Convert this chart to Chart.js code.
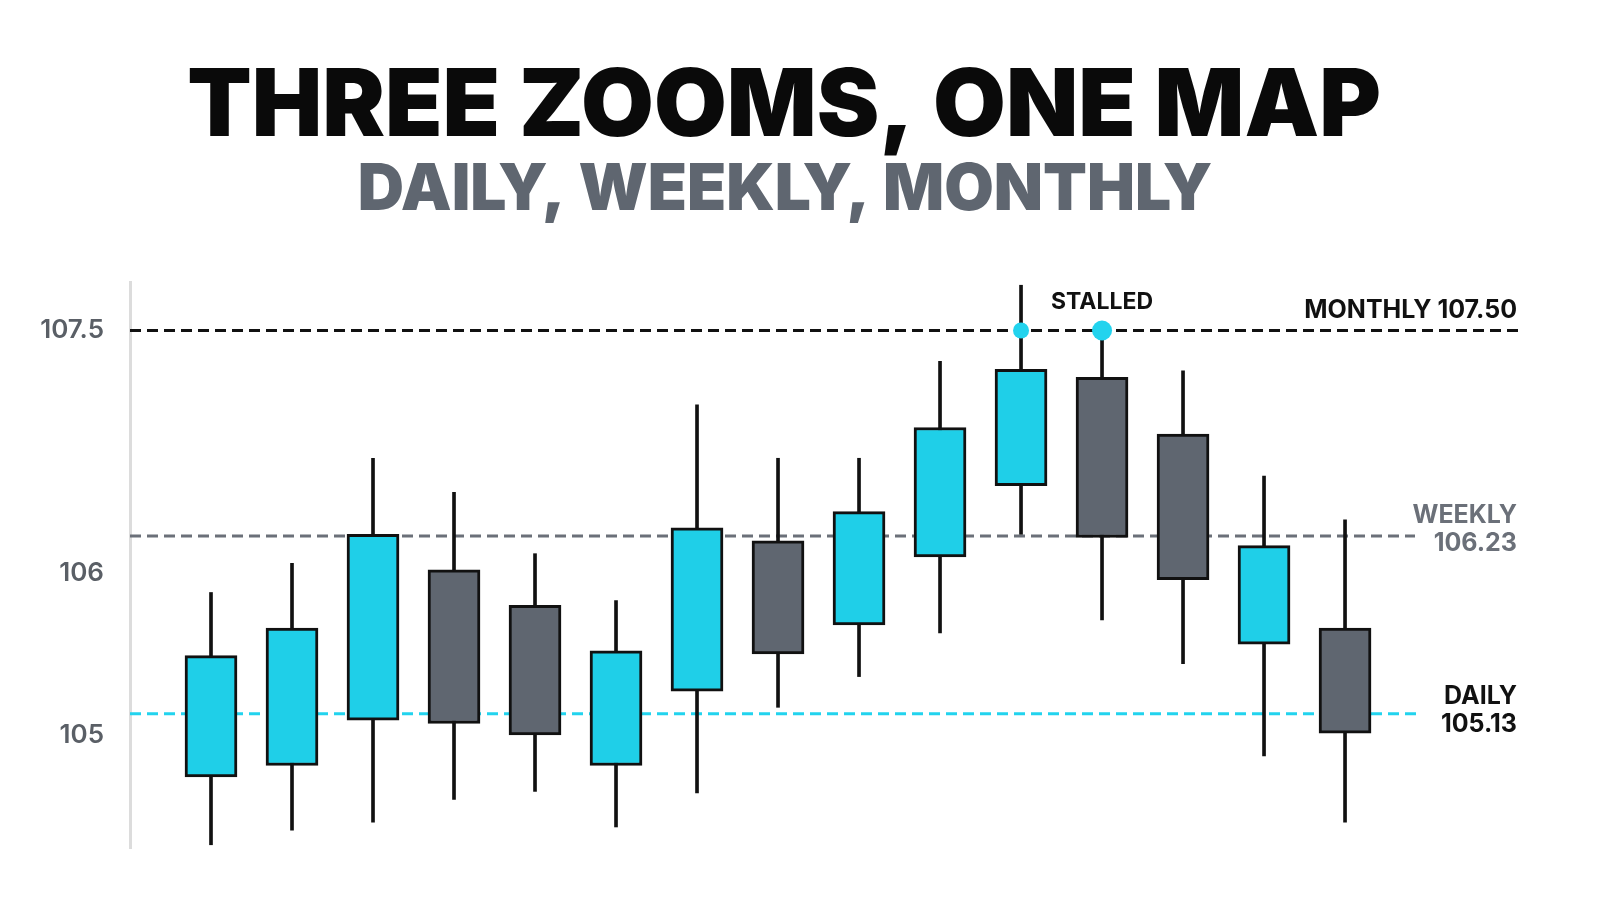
<!DOCTYPE html>
<html><head><meta charset="utf-8">
<script src="https://cdn.jsdelivr.net/npm/chart.js@4.4.1/dist/chart.umd.min.js"></script>
<style>html,body{margin:0;background:#fff}#wrap{width:1600px;height:914px}</style>
</head><body><div id="wrap"><canvas id="c"></canvas></div>
<script>
const opens  = [104.74,104.81,105.09,106.02,105.80,104.81,105.27,106.20,105.68,106.10,106.54,107.21,106.86,105.56,105.66];
const closes = [105.49,105.66,106.24,105.07,105.00,105.52,106.28,105.50,106.38,106.90,107.26,106.22,105.96,106.17,105.01];
const highs  = [105.88,106.06,106.71,106.50,106.12,105.83,107.04,106.71,106.71,107.31,107.78,107.50,107.25,106.60,106.33];
const lows   = [104.32,104.41,104.46,104.60,104.65,104.43,104.64,105.17,105.36,105.63,106.24,105.71,105.44,104.87,104.46];
const yTicks = [105,106,107.5];
const levels = [{name:'MONTHLY',value:107.50},{name:'WEEKLY',value:106.23},{name:'DAILY',value:105.13}];
const stalledIdx = [10,11];

const CYAN='#1fcfe8', GRAY='#5f6670', LGRAY='#6b7079';
const idx = opens.map((_,i)=>i);
const colors = idx.map(i=>closes[i]>=opens[i]?CYAN:GRAY);

const overlay = {
  id:'overlay',
  beforeDatasetsDraw(ch){
    const {ctx,chartArea:a,scales:{y}}=ch;
    ctx.save();
    ctx.lineWidth=3;
    const cfg=[['MONTHLY','#111',a.right],['WEEKLY','#6b7079',1415],['DAILY','#22d3ee',1420]];
    levels.forEach((l,k)=>{
      const py=y.getPixelForValue(l.value);
      ctx.strokeStyle=cfg[k][1];ctx.setLineDash([11,6]);
      ctx.beginPath();ctx.moveTo(a.left,py);ctx.lineTo(cfg[k][2],py);ctx.stroke();
    });
    ctx.restore();
  },
  afterDraw(ch){
    const {ctx,chartArea:a,scales:{x,y}}=ch;
    ctx.save();
    ctx.textAlign='center';ctx.fillStyle='#0a0a0a';
    ctx.font='900 94px Inter';ctx.fillText('THREE ZOOMS, ONE MAP',784,136);
    ctx.fillStyle='#5f6670';ctx.font='900 64px Inter';ctx.fillText('DAILY, WEEKLY, MONTHLY',785,210);
    ctx.textAlign='right';ctx.font='bold 25px Inter';
    const m=y.getPixelForValue(levels[0].value);
    ctx.fillStyle='#111';ctx.fillText(levels[0].name+' '+levels[0].value.toFixed(2),1517,m-13);
    const w=y.getPixelForValue(levels[1].value);
    ctx.fillStyle=LGRAY;ctx.fillText(levels[1].name,1517,w-13);ctx.fillText(levels[1].value.toFixed(2),1517,w+15);
    const d=y.getPixelForValue(levels[2].value);
    ctx.fillStyle='#111';ctx.fillText(levels[2].name,1517,d-10);ctx.fillText(levels[2].value.toFixed(2),1517,d+18);
    ctx.textAlign='center';ctx.font='bold 23px Inter';ctx.fillStyle='#111';
    ctx.fillText('STALLED',x.getPixelForValue(11),y.getPixelForValue(levels[0].value)-22);
    ctx.restore();
  }
};

new Chart(document.getElementById('c'),{
  data:{datasets:[
    {type:'bar',data:idx.map(i=>({x:i,y:[lows[i],highs[i]]})),backgroundColor:'#111',barThickness:3,grouped:false,order:3},
    {type:'bar',data:idx.map(i=>({x:i,y:[opens[i],closes[i]]})),backgroundColor:colors,borderColor:'#111',borderWidth:3,borderSkipped:false,barThickness:52,grouped:false,order:2},
    {type:'scatter',data:stalledIdx.map(i=>({x:i,y:levels[0].value})),pointRadius:[8,10],backgroundColor:'#22d3ee',borderWidth:0,order:1}
  ]},
  options:{
    responsive:true,maintainAspectRatio:false,animation:false,
    layout:{padding:{left:0,top:282,right:80,bottom:66}},
    plugins:{legend:{display:false},tooltip:{enabled:false}},
    scales:{
      x:{type:'linear',min:-1,max:16.16,offset:false,display:false},
      y:{min:104.30,max:107.80,
        afterFit(s){s.width=130},
        afterBuildTicks(s){s.ticks=yTicks.map(v=>({value:v}))},
        grid:{display:false,drawTicks:false},
        border:{color:'#dcdcdc',width:3},
        ticks:{color:'#5a5f66',font:{size:26,family:'Inter',weight:'600'},padding:26,callback:v=>String(v)}}
    }
  },
  plugins:[overlay]
});
</script></body></html>
